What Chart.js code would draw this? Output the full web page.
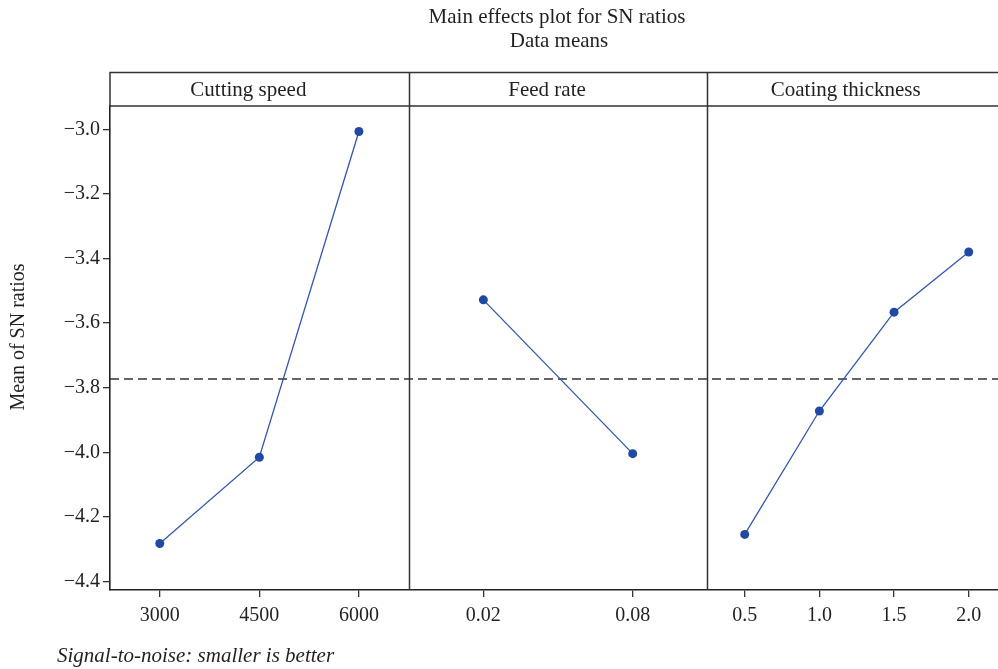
<!DOCTYPE html>
<html>
<head>
<meta charset="utf-8">
<title>Main effects plot for SN ratios</title>
<script src="https://cdn.jsdelivr.net/npm/chart.js@4.4.1/dist/chart.umd.min.js"></script>
<style>
  html, body { margin: 0; padding: 0; background: #fff; }
  #chart { display: block; }
</style>
</head>
<body>
<canvas id="chart" width="998" height="669"></canvas>
<script>
// Data
const factorNames = ["Cutting speed", "Feed rate", "Coating thickness"];
const speedLevels = ["3000", "4500", "6000"];
const speedSN = [-4.282, -4.015, -3.007];
const feedLevels = ["0.02", "0.08"];
const feedSN = [-3.528, -4.004];
const coatLevels = ["0.5", "1.0", "1.5", "2.0"];
const coatSN = [-4.254, -3.872, -3.566, -3.38];
const meanSN = -3.773;
const yTicks = [-4.4, -4.2, -4.0, -3.8, -3.6, -3.4, -3.2, -3.0];

// Each factor gets one panel, 1 unit wide on the x scale
const factors = [
  { levels: speedLevels, values: speedSN },
  { levels: feedLevels, values: feedSN },
  { levels: coatLevels, values: coatSN },
];
const xMax = 2.973; // right panel is cut by the image edge
const serif = "'Liberation Serif', 'Times New Roman', serif";
const ink = "#231f20";
const lineBlue = "#3156ad";
const dotBlue = "#2149a3";

const tickPositions = [];
const tickLabels = [];
const datasets = [];
factors.forEach((f, p) => {
  const n = f.levels.length;
  const pts = f.values.map((v, i) => ({ x: p + (i + 0.5) / n, y: v }));
  pts.forEach((pt, i) => {
    tickPositions.push(pt.x);
    tickLabels.push(f.levels[i]);
  });
  datasets.push({
    data: pts,
    borderColor: lineBlue,
    borderWidth: 1.3,
    pointRadius: 4.5,
    pointBackgroundColor: dotBlue,
    pointBorderColor: dotBlue,
    pointBorderWidth: 0,
    tension: 0,
  });
});
// overall mean reference line
datasets.push({
  data: [
    { x: 0, y: meanSN },
    { x: xMax, y: meanSN },
  ],
  borderColor: "#333",
  borderWidth: 1.3,
  borderDash: [9, 5],
  pointRadius: 0,
});

// ===================================
// DECORATION PLUGIN (titles, panel strips, separators, footnote)
// ===================================
const panelDecor = {
  id: "panelDecor",
  afterDraw(chart) {
    const { ctx, chartArea, scales } = chart;
    const x = scales.x;
    const stripTop = 72.5;
    const stripBottom = chartArea.top;
    ctx.save();

    // main titles
    ctx.fillStyle = ink;
    ctx.textAlign = "center";
    ctx.textBaseline = "middle";
    ctx.font = "21px " + serif;
    ctx.fillText("Main effects plot for SN ratios", 557, 17);
    ctx.fillText("Data means", 559, 41);

    // strip box
    ctx.strokeStyle = "#333";
    ctx.lineWidth = 1.5;
    ctx.beginPath();
    ctx.moveTo(chartArea.left, stripBottom);
    ctx.lineTo(chartArea.left, stripTop);
    ctx.lineTo(chart.width, stripTop);
    ctx.moveTo(chartArea.left, stripBottom);
    ctx.lineTo(chart.width, stripBottom);
    ctx.stroke();

    // panel separators through strip and plot
    for (let p = 1; p < factors.length; p++) {
      const px = Math.round(x.getPixelForValue(p)) + 0.5;
      ctx.beginPath();
      ctx.moveTo(px, stripTop);
      ctx.lineTo(px, chartArea.bottom);
      ctx.stroke();
    }

    // strip labels
    ctx.font = "21px " + serif;
    factorNames.forEach((name, p) => {
      const cx = x.getPixelForValue(p + 0.5) - 11;
      ctx.fillText(name, cx, (stripTop + stripBottom) / 2 + 1);
    });

    // y axis title
    ctx.save();
    ctx.translate(19, 337);
    ctx.rotate(-Math.PI / 2);
    ctx.font = "20px " + serif;
    ctx.fillText("Mean of SN ratios", 0, 0);
    ctx.restore();

    // footnote
    ctx.textAlign = "left";
    ctx.textBaseline = "alphabetic";
    ctx.font = "italic 21px " + serif;
    ctx.fillText("Signal-to-noise: smaller is better", 57, 662);
    ctx.restore();
  },
};

new Chart(document.getElementById("chart"), {
  type: "line",
  data: { datasets },
  options: {
    responsive: false,
    animation: false,
    layout: {
      autoPadding: false,
      padding: { top: 106, right: 0, bottom: 0, left: 0 },
    },
    plugins: {
      legend: { display: false },
      tooltip: { enabled: false },
      title: { display: false },
    },
    scales: {
      x: {
        type: "linear",
        min: 0,
        max: xMax,
        afterBuildTicks: (s) => {
          s.ticks = tickPositions.map((v) => ({ value: v }));
        },
        afterFit: (s) => {
          s.height = 79;
        },
        ticks: {
          callback: (v, i) => tickLabels[i],
          autoSkip: false,
          maxRotation: 0,
          padding: 7,
          color: ink,
          font: { family: serif, size: 20 },
        },
        grid: {
          drawOnChartArea: false,
          drawTicks: true,
          tickLength: 7,
          color: "#333",
          lineWidth: 1.3,
        },
        border: { color: "#222", width: 1.6 },
      },
      y: {
        type: "linear",
        min: -4.426,
        max: -2.928,
        afterBuildTicks: (s) => {
          s.ticks = yTicks.map((v) => ({ value: v }));
        },
        afterFit: (s) => {
          s.width = 110;
        },
        ticks: {
          callback: (v) => "\u2212" + Math.abs(v).toFixed(1),
          padding: 3,
          color: ink,
          font: { family: serif, size: 20 },
        },
        grid: {
          drawOnChartArea: false,
          drawTicks: true,
          tickLength: 7,
          color: "#333",
          lineWidth: 1.3,
        },
        border: { color: "#222", width: 1.6 },
      },
    },
  },
  plugins: [panelDecor],
});
</script>
</body>
</html>
